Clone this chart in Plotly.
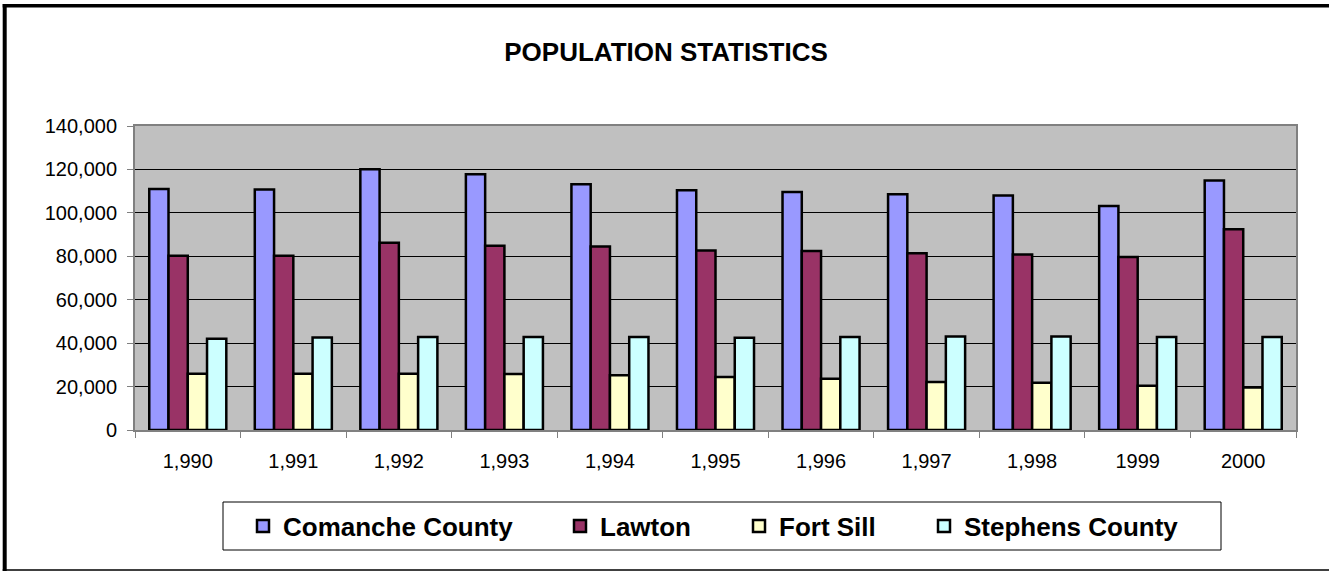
import plotly.graph_objects as go

years = ["1,990", "1,991", "1,992", "1,993", "1,994", "1,995", "1,996", "1,997", "1,998", "1999", "2000"]
series_names = ["Comanche County", "Lawton", "Fort Sill", "Stephens County"]
comanche = [111000, 110800, 120100, 117800, 113200, 110400, 109600, 108600, 108000, 103200, 114900]
lawton = [80200, 80200, 86200, 84800, 84500, 82700, 82400, 81400, 80800, 79700, 92500]
fort_sill = [25900, 25900, 25900, 25800, 25200, 24400, 23600, 22100, 21800, 20400, 19600]
stephens = [42000, 42600, 42800, 42800, 42800, 42500, 42800, 43100, 43100, 42800, 42800]
colors = ["#9999FF", "#993366", "#FFFFCC", "#CCFFFF"]
values = [comanche, lawton, fort_sill, stephens]

W, H = 1329, 571
PL, PR, PT, PB = 135, 1296, 126, 430  # plot area in pixels

def px(x):
    return (x - PL) / (PR - PL)

def py(y):
    return (PB - y) / (PB - PT)

FONT = "Liberation Sans, Arial, sans-serif"

fig = go.Figure()
legend_ids = ["legend", "legend2", "legend3", "legend4"]
for name, vals, col, lid in zip(series_names, values, colors, legend_ids):
    fig.add_trace(go.Bar(
        x=years, y=vals, name=name, legend=lid, showlegend=True,
        marker=dict(color=col, line=dict(color="black", width=2.5)),
        hoverinfo="x+y+name",
    ))

text_starts = [279, 596, 775, 960]
legend_layouts = {}
for lid, ts in zip(legend_ids, text_starts):
    legend_layouts[lid] = dict(
        x=px(ts - 36), xanchor="left", xref="paper",
        y=py(526), yanchor="middle", yref="paper",
        bgcolor="rgba(0,0,0,0)", borderwidth=0,
        font=dict(family=FONT, size=26, color="black", weight="bold"),
        itemclick=False, itemdoubleclick=False,
    )

shapes = [
    # outer frame
    dict(type="line", xref="paper", yref="paper", x0=px(2.7), x1=px(1340), y0=py(5.7), y1=py(5.7),
         line=dict(color="black", width=3.5)),
    dict(type="line", xref="paper", yref="paper", x0=px(4.7), x1=px(4.7), y0=py(4), y1=py(575),
         line=dict(color="black", width=4)),
    dict(type="line", xref="paper", yref="paper", x0=px(2.7), x1=px(1340), y0=py(570), y1=py(570),
         line=dict(color="black", width=1.5)),
    # legend box
    dict(type="rect", xref="paper", yref="paper", x0=px(223), x1=px(1221), y0=py(550), y1=py(502),
         line=dict(color="black", width=1), fillcolor="rgba(0,0,0,0)", layer="below"),
]

fig.update_layout(
    width=W, height=H,
    margin=dict(l=PL, r=W - PR, t=PT, b=H - PB, pad=0),
    paper_bgcolor="white",
    plot_bgcolor="#C0C0C0",
    barmode="group",
    bargap=0.27,
    bargroupgap=0,
    showlegend=True,
    title=dict(text="<b>POPULATION STATISTICS</b>", x=666 / W, xanchor="center", xref="container",
               y=1 - 52 / H, yanchor="middle", yref="container",
               font=dict(family=FONT, size=26, color="black")),
    font=dict(family=FONT, color="black"),
    shapes=shapes,
    **legend_layouts,
)

fig.update_xaxes(
    type="category", tickson="boundaries", ticks="outside", ticklen=6, tickcolor="#808080", tickwidth=1,
    showgrid=False, showline=True, linecolor="#808080", linewidth=2, mirror=True,
    tickfont=dict(family=FONT, size=20, color="black"), ticklabelstandoff=12,
)
fig.update_yaxes(
    range=[0, 140000], dtick=20000, tickformat=",", ticks="outside", ticklen=6, tickcolor="#808080",
    showgrid=True, gridcolor="#000000", gridwidth=1, showline=True, linecolor="#808080", linewidth=2,
    mirror=True, zeroline=False,
    tickfont=dict(family=FONT, size=20, color="black"), ticklabelstandoff=6,
)

fig.write_html(
    "out.html",
    config={"displayModeBar": False},
    post_script="document.body.style.margin='0';document.body.style.overflow='hidden';",
)
